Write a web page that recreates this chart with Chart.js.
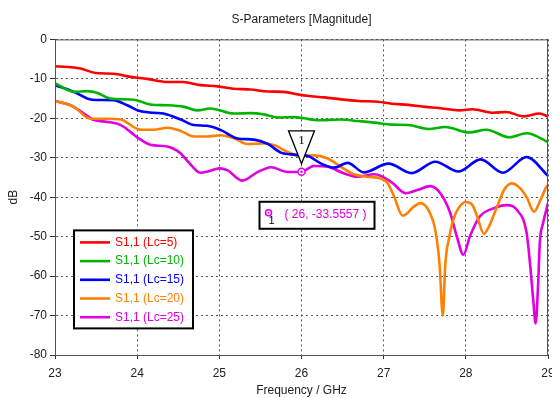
<!DOCTYPE html>
<html>
<head>
<meta charset="utf-8">
<script src="https://cdn.jsdelivr.net/npm/chart.js@4/dist/chart.umd.min.js"></script>
<style>
  html, body { margin: 0; padding: 0; background: #fff; }
</style>
</head>
<body>
<canvas id="chart" width="552" height="398"></canvas>
<script>
const FONT = "'Liberation Sans', Arial, sans-serif";

// x ticks / y ticks
const freqTicks = [23, 24, 25, 26, 27, 28, 29];
const dbTicks = [0, -10, -20, -30, -40, -50, -60, -70, -80];

const seriesLabels = ["S1,1 (Lc=5)", "S1,1 (Lc=10)", "S1,1 (Lc=15)", "S1,1 (Lc=20)", "S1,1 (Lc=25)"];
const seriesColors = ["#ff0000", "#00b400", "#0000ff", "#ff8000", "#e000e0"];

// (GHz, dB)
const freqLc5 = [23.0, 23.31, 23.49, 23.71, 23.92, 24.12, 24.37, 24.56, 24.77, 24.98, 25.17, 25.38, 25.59, 25.78, 25.97, 26.07, 26.28, 26.48, 26.69, 26.93, 27.10, 27.30, 27.51, 27.67, 27.92, 28.08, 28.33, 28.49, 28.70, 28.90, 29.0];
const dbLc5   = [-6.8, -7.4, -8.5, -8.7, -9.5, -10.0, -10.8, -10.8, -11.6, -11.9, -12.5, -12.7, -13.2, -13.3, -14.0, -14.3, -14.7, -15.2, -15.6, -15.8, -16.3, -16.6, -17.1, -17.4, -18.0, -17.7, -18.6, -18.4, -19.5, -18.8, -19.6];

const freqLc10 = [23.0, 23.23, 23.39, 23.51, 23.67, 23.96, 24.16, 24.37, 24.57, 24.73, 24.89, 25.18, 25.38, 25.54, 25.71, 25.91, 26.03, 26.20, 26.48, 26.69, 26.89, 27.10, 27.30, 27.55, 27.75, 28.04, 28.25, 28.53, 28.74, 29.0];
const dbLc10   = [-11.1, -13.3, -13.1, -13.5, -15.0, -15.3, -16.5, -16.7, -17.1, -18.0, -17.5, -18.8, -18.7, -19.0, -19.8, -19.7, -20.0, -20.5, -20.3, -20.7, -21.1, -21.6, -21.7, -22.7, -22.2, -23.6, -22.9, -24.8, -23.8, -26.0];

const freqLc15 = [23.0, 23.23, 23.45, 23.71, 23.88, 24.02, 24.20, 24.32, 24.53, 24.69, 24.85, 25.02, 25.22, 25.42, 25.59, 25.75, 25.91, 26.07, 26.24, 26.40, 26.56, 26.76, 27.06, 27.34, 27.63, 27.91, 28.18, 28.45, 28.74, 29.0];
const dbLc15   = [-11.6, -13.3, -15.3, -15.4, -16.7, -18.1, -18.6, -18.8, -20.3, -21.7, -21.9, -23.0, -25.1, -25.4, -26.5, -28.7, -29.2, -29.5, -31.5, -32.5, -31.3, -33.7, -31.5, -33.9, -31.0, -33.5, -30.4, -33.8, -29.8, -34.6];

const freqLc20 = [23.0, 23.23, 23.43, 23.63, 23.80, 24.04, 24.20, 24.37, 24.53, 24.69, 24.85, 25.02, 25.18, 25.34, 25.54, 25.67, 25.83, 25.99, 26.15, 26.32, 26.48, 26.64, 26.80, 26.97, 27.05, 27.13, 27.23, 27.28, 27.36, 27.45, 27.55, 27.63, 27.68, 27.72, 27.75, 27.80, 27.85, 27.92, 28.00, 28.08, 28.14, 28.22, 28.28, 28.38, 28.47, 28.56, 28.65, 28.74, 28.83, 28.90, 28.98, 29.0];
const dbLc20   = [-15.6, -17.1, -20.1, -20.1, -20.3, -22.9, -22.9, -22.4, -23.2, -24.6, -24.6, -24.3, -25.1, -26.5, -26.4, -26.8, -28.5, -29.6, -29.4, -30.2, -32.3, -34.2, -34.8, -35.3, -36.5, -40.0, -44.7, -44.2, -42.5, -41.5, -43.5, -48.5, -57.0, -70.0, -57.0, -50.0, -45.5, -42.5, -41.2, -42.0, -45.0, -49.3, -47.5, -42.4, -38.0, -36.5, -37.5, -40.0, -43.7, -41.1, -37.4, -37.0];

const freqLc25 = [23.0, 23.19, 23.31, 23.47, 23.63, 23.76, 23.84, 23.92, 24.02, 24.16, 24.35, 24.43, 24.53, 24.65, 24.77, 24.87, 25.00, 25.10, 25.28, 25.46, 25.63, 25.83, 26.0, 26.15, 26.32, 26.52, 26.68, 26.89, 27.09, 27.27, 27.41, 27.57, 27.69, 27.81, 27.89, 27.97, 28.05, 28.17, 28.34, 28.50, 28.62, 28.74, 28.78, 28.82, 28.85, 28.88, 28.90, 28.94, 29.0];
const dbLc25   = [-15.6, -16.7, -18.2, -20.4, -20.9, -21.4, -22.2, -23.5, -25.1, -26.7, -27.1, -27.6, -28.9, -31.7, -33.8, -33.4, -32.7, -33.2, -35.8, -33.7, -32.4, -33.6, -33.5557, -32.1, -32.3, -34.0, -34.8, -34.2, -36.1, -39.0, -38.2, -37.2, -39.0, -44.0, -49.9, -54.6, -49.9, -44.9, -42.8, -42.0, -43.2, -49.1, -56.6, -66.0, -72.0, -62.0, -51.6, -46.6, -41.5];

const markerFreq = 26;
const markerDb = -33.5557;

const allFreqs = [freqLc5, freqLc10, freqLc15, freqLc20, freqLc25];
const allDbs = [dbLc5, dbLc10, dbLc15, dbLc20, dbLc25];

const datasets = seriesLabels.map((label, i) => ({
  label,
  data: allFreqs[i].map((f, j) => ({ x: f, y: allDbs[i][j] })),
  borderColor: seriesColors[i],
  backgroundColor: seriesColors[i],
  borderWidth: 2.6,
  pointRadius: 0,
  cubicInterpolationMode: "monotone",
  fill: false
}));

// plot frame + legend box + marker, drawn over the chart area
const extras = {
  id: "extras",
  afterDatasetsDraw(c) {
    const { ctx, chartArea: a, scales } = c;
    ctx.save();
    ctx.strokeStyle = "#555";
    ctx.lineWidth = 1;
    ctx.strokeRect(a.left + 0.5, a.top + 0.5, a.right - a.left - 1, a.bottom - a.top);

    // marker on Lc=25 curve
    const mx = scales.x.getPixelForValue(markerFreq);
    const my = scales.y.getPixelForValue(markerDb);
    ctx.fillStyle = "#fff";
    ctx.strokeStyle = seriesColors[4];
    ctx.lineWidth = 1.5;
    ctx.beginPath(); ctx.arc(mx, my, 3.5, 0, Math.PI * 2); ctx.fill(); ctx.stroke();
    ctx.fillStyle = seriesColors[4];
    ctx.beginPath(); ctx.arc(mx, my, 1.2, 0, Math.PI * 2); ctx.fill();

    // flag triangle
    ctx.fillStyle = "#fff";
    ctx.strokeStyle = "#000";
    ctx.lineWidth = 1.3;
    ctx.beginPath();
    ctx.moveTo(mx - 13, my - 41);
    ctx.lineTo(mx + 13, my - 41);
    ctx.lineTo(mx, my - 8);
    ctx.closePath(); ctx.fill(); ctx.stroke();
    ctx.fillStyle = "#000";
    ctx.font = "13px 'Liberation Serif', serif";
    ctx.textAlign = "center"; ctx.textBaseline = "middle";
    ctx.fillText("1", mx, my - 31);

    // value box
    const bx = mx - 42, by = my + 30, bw = 115, bh = 27;
    ctx.fillStyle = "#fff";
    ctx.fillRect(bx, by, bw, bh);
    ctx.lineWidth = 2;
    ctx.strokeRect(bx, by, bw, bh);
    ctx.strokeStyle = seriesColors[4];
    ctx.lineWidth = 1.5;
    ctx.beginPath(); ctx.arc(bx + 9, by + 11, 3, 0, Math.PI * 2); ctx.stroke();
    ctx.fillStyle = seriesColors[4];
    ctx.beginPath(); ctx.arc(bx + 9, by + 11, 1, 0, Math.PI * 2); ctx.fill();
    ctx.fillStyle = "#000";
    ctx.font = "11px " + FONT;
    ctx.fillText("1", bx + 12, by + 19);
    ctx.fillStyle = seriesColors[4];
    ctx.font = "12px " + FONT;
    ctx.textAlign = "left";
    ctx.fillText("( " + markerFreq + ", " + markerDb + " )", bx + 25, by + 13);

    // legend
    const lx = a.left + 19, ly = a.top + 191, lw = 119, lh = 98;
    ctx.fillStyle = "#fff";
    ctx.fillRect(lx, ly, lw, lh);
    ctx.strokeStyle = "#000";
    ctx.lineWidth = 2;
    ctx.strokeRect(lx, ly, lw, lh);
    c.data.datasets.forEach((ds, i) => {
      const ry = ly + 12 + i * 18.7;
      ctx.strokeStyle = ds.borderColor;
      ctx.lineWidth = 2.6;
      ctx.beginPath(); ctx.moveTo(lx + 6, ry); ctx.lineTo(lx + 36, ry); ctx.stroke();
      ctx.fillStyle = ds.borderColor;
      ctx.font = "12px " + FONT;
      ctx.textAlign = "left"; ctx.textBaseline = "middle";
      ctx.fillText(ds.label, lx + 41, ry);
    });
    ctx.restore();
  }
};

new Chart(document.getElementById("chart"), {
  type: "line",
  data: { datasets },
  options: {
    responsive: false,
    animation: false,
    layout: { padding: { top: 0, right: 4, bottom: 0, left: 0 } },
    plugins: {
      legend: { display: false },
      tooltip: { enabled: false },
      title: {
        display: true,
        text: "S-Parameters [Magnitude]",
        fullSize: false,
        color: "#222",
        font: { family: FONT, size: 12, weight: "normal" },
        padding: { top: 12, bottom: 13 }
      }
    },
    scales: {
      x: {
        type: "linear",
        min: 23, max: 29,
        afterBuildTicks: (s) => { s.ticks = freqTicks.map(v => ({ value: v })); },
        afterFit: (s) => { s.height = 43; s.paddingRight = 0; s.paddingLeft = 0; },
        ticks: { color: "#222", font: { family: FONT, size: 12 }, padding: 7, maxRotation: 0 },
        grid: { color: "#555", tickColor: "#333", tickLength: 4, tickBorderDash: [] },
        border: { display: true, color: "#333", width: 1, dash: [2, 3] },
        title: { display: true, text: "Frequency / GHz", color: "#222", font: { family: FONT, size: 12 }, padding: { top: 0, bottom: 0 } }
      },
      y: {
        type: "linear",
        min: -80, max: 0,
        afterBuildTicks: (s) => { s.ticks = dbTicks.map(v => ({ value: v })); },
        afterFit: (s) => { s.width = 55; },
        ticks: { color: "#222", font: { family: FONT, size: 12 }, padding: 3 },
        grid: { color: "#555", tickColor: "#333", tickLength: 5, tickBorderDash: [] },
        border: { display: true, color: "#333", width: 1, dash: [2, 3] },
        title: { display: true, text: "dB", color: "#222", font: { family: FONT, size: 12 }, padding: { top: 6, bottom: 0 } }
      }
    }
  },
  plugins: [extras]
});
</script>
</body>
</html>
